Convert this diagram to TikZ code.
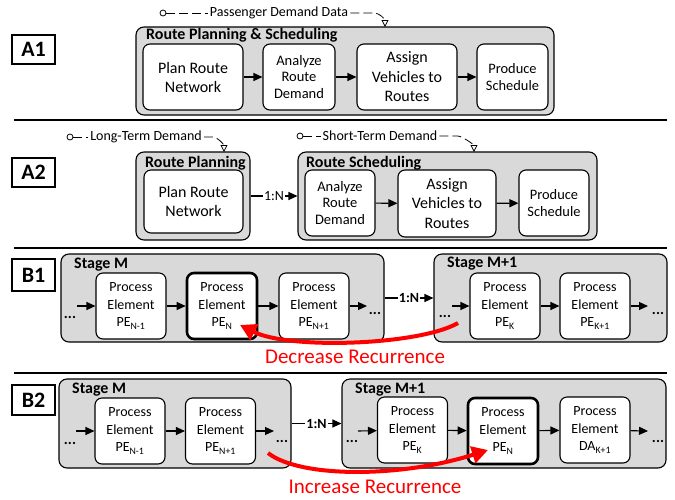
\documentclass[tikz,border=0pt]{standalone}
\usepackage{fontspec}
\setmainfont{Carlito}
\usetikzlibrary{arrows.meta}
\definecolor{panelgray}{RGB}{217,217,217}
\newcommand{\fsz}[2]{\fontsize{#1}{#2}\selectfont}
\newcommand{\procel}[2]{Process\\Element\\#1\textsubscript{#2}}
\begin{document}
\begin{tikzpicture}[x=1pt,y=-1pt,
  panel/.style={draw, line width=1.1pt, fill=panelgray, rounded corners=8pt, inner sep=0pt},
  inbox/.style={draw, line width=1.1pt, fill=white, rounded corners=7pt, align=center, inner sep=0pt},
  pebox/.style={inbox, minimum width=70pt, minimum height=66pt, font=\fsz{14}{17.5}},
  keybox/.style={pebox, line width=2.6pt},
  tag/.style={draw, line width=1.2pt, font=\fsz{22}{26}\bfseries, inner sep=0pt, minimum width=43pt},
  ttl/.style={anchor=west, inner sep=0pt, font=\fsz{16}{19}\bfseries},
  flow/.style={line width=1.1pt, -{Triangle[length=9pt,width=8pt]}},
  feed/.style={line width=0.8pt, dash pattern=on 9pt off 4pt},
  feedin/.style={feed, -{Triangle[open,length=7pt,width=7pt]}},
  src/.style={draw, circle, line width=0.8pt, minimum size=6pt, inner sep=0pt},
  srctxt/.style={inner sep=2pt, font=\fsz{14}{16}},
  ratio/.style={fill=white, inner sep=1pt, font=\fsz{14}{16}},
  rule/.style={line width=1.4pt},
  rec/.style={red, line width=4pt, -{Triangle[length=16pt,width=17pt]}},
  rectxt/.style={red, inner sep=0pt, font=\fsz{21}{24}},
  dots/.style={inner sep=0pt, font=\fsz{15}{16}\bfseries},
]
\useasboundingbox (0,0) rectangle (675,499);

% ---------------- A1 ----------------
\node[tag, minimum height=29pt] (tA1) at (33.5,49.5) {A1};
\node[panel, minimum width=418pt, minimum height=88pt] (pA1) at (345,71) {};
\node[ttl] (ttlA1) at (146,35) {Route Planning \& Scheduling};
\node[inbox, minimum width=100pt, minimum height=66pt, font=\fsz{16}{19}] (a1plan) at (193,77) {Plan Route\\Network};
\node[inbox, minimum width=72pt, minimum height=66pt, font=\fsz{14.5}{16.5}] (a1ana) at (299,77) {Analyze\\Route\\Demand};
\node[inbox, minimum width=100pt, minimum height=66pt, font=\fsz{16}{19.5}] (a1veh) at (407,77) {Assign\\Vehicles to\\Routes};
\node[inbox, minimum width=71pt, minimum height=66pt, font=\fsz{14.4}{17.5}] (a1sch) at (512.5,77) {Produce\\Schedule};
\draw[flow] (a1plan) -- (a1ana);
\draw[flow] (a1ana) -- (a1veh);
\draw[flow] (a1veh) -- (a1sch);

\node[src] (sA1) at (163,13) {};
\node[srctxt] (dA1) at (279,13) {Passenger Demand Data};
\coordinate (inA1) at (385,27);
\draw[feed] (sA1) -- (dA1);
\draw[feedin] (dA1.east) -- ++(24,0) .. controls +(5,0) and +(0,-8) .. (inA1);

\draw[rule] (14,120) -- (667,120);

% ---------------- A2 ----------------
\node[tag, minimum height=29pt] (tA2) at (33.5,172.5) {A2};
\node[panel, minimum width=114pt, minimum height=88pt] (pRP) at (193,196) {};
\node[ttl] (ttlRP) at (145,163) {Route Planning};
\node[inbox, minimum width=99pt, minimum height=63pt, font=\fsz{16}{19}] (a2plan) at (193.5,201.5) {Plan Route\\Network};

\node[panel, minimum width=299pt, minimum height=88pt] (pRS) at (447.5,196) {};
\node[ttl] (ttlRS) at (306,163) {Route Scheduling};
\node[inbox, minimum width=70pt, minimum height=66pt, font=\fsz{14.5}{16.5}] (a2ana) at (340,203) {Analyze\\Route\\Demand};
\node[inbox, minimum width=98pt, minimum height=67pt, font=\fsz{16}{19.5}] (a2veh) at (447,203.5) {Assign\\Vehicles to\\Routes};
\node[inbox, minimum width=70pt, minimum height=66pt, font=\fsz{14.4}{16.5}] (a2sch) at (554,203) {Produce\\Schedule};
\draw[flow] (a2ana) -- (a2veh);
\draw[flow] (a2veh) -- (a2sch);
\draw[flow] (pRP) -- node[ratio] (nA2) {1:N} (pRS);

\node[src] (sLT) at (70,137) {};
\node[srctxt] (dLT) at (146,137) {Long-Term Demand};
\coordinate (inLT) at (224,152);
\draw[feed] (sLT) -- (dLT);
\draw[feedin] (dLT.east) -- ++(9,0) .. controls +(5,0) and +(0,-7) .. (inLT);

\node[src] (sST) at (300,136) {};
\node[srctxt] (dST) at (380,136) {Short-Term Demand};
\coordinate (inST) at (474,152);
\draw[feed] (sST) -- (dST);
\draw[feedin] (dST.east) -- ++(18,0) .. controls +(5,0) and +(0,-7) .. (inST);

\draw[rule] (14,248) -- (667,248);

% ---------------- B1 ----------------
\node[tag, minimum height=32pt] (tB1) at (33.5,275) {B1};
\node[panel, minimum width=323pt, minimum height=88pt] (b1M) at (222.5,298) {};
\node[ttl] (ttlB1M) at (74,265) {Stage M};
\node[pebox] (b1p1) at (131,306) {\procel{PE}{N-1}};
\node[keybox] (b1pn) at (222,306) {\procel{PE}{N}};
\node[pebox] (b1p2) at (314,306) {\procel{PE}{N+1}};
\node[dots] (b1d1) at (70,317) {...};
\node[dots] (b1d2) at (375,313) {...};
\coordinate (b1a1) at (77,306);
\coordinate (b1a2) at (367,306);
\draw[flow] (b1a1) -- (b1p1);
\draw[flow] (b1p1) -- (b1pn);
\draw[flow] (b1pn) -- (b1p2);
\draw[flow] (b1p2) -- (b1a2);

\node[panel, minimum width=233pt, minimum height=88pt] (b1M1) at (550.5,298) {};
\node[ttl] (ttlB1M1) at (447,264) {Stage M+1};
\node[pebox] (b1pk) at (505,306) {\procel{PE}{K}};
\node[pebox] (b1pk1) at (595,306) {\procel{PE}{K+1}};
\node[dots] (b1d3) at (445,316) {...};
\node[dots] (b1d4) at (658,313) {...};
\coordinate (b1a3) at (452,306);
\coordinate (b1a4) at (648,306);
\draw[flow] (b1a3) -- (b1pk);
\draw[flow] (b1pk) -- (b1pk1);
\draw[flow] (b1pk1) -- (b1a4);
\draw[flow] (b1M) -- node[ratio, font=\fsz{14}{16}\bfseries] (nB1) {1:N} (b1M1);

\coordinate (r1s) at (458,323);
\coordinate (r1e) at (240,325);
\draw[rec] (r1s) .. controls (420,345) and (290,350) .. (r1e);
\node[rectxt] (dec) at (355,357) {Decrease Recurrence};

\draw[rule] (14,373) -- (667,373);

% ---------------- B2 ----------------
\node[tag, minimum height=30pt] (tB2) at (33.5,400) {B2};
\node[panel, minimum width=232pt, minimum height=89pt] (b2M) at (175,423.5) {};
\node[ttl] (ttlB2M) at (72,390) {Stage M};
\node[pebox] (b2p1) at (130,431) {\procel{PE}{N-1}};
\node[pebox] (b2p2) at (220.5,431) {\procel{PE}{N+1}};
\node[dots] (b2d1) at (70,443) {...};
\node[dots] (b2d2) at (282,441) {...};
\coordinate (b2a1) at (76,431);
\coordinate (b2a2) at (274,431);
\draw[flow] (b2a1) -- (b2p1);
\draw[flow] (b2p1) -- (b2p2);
\draw[flow] (b2p2) -- (b2a2);

\node[panel, minimum width=324pt, minimum height=89pt] (b2M1) at (504,423.5) {};
\node[ttl] (ttlB2M1) at (355,390) {Stage M+1};
\node[pebox] (b2pk) at (412.5,430) {\procel{PE}{K}};
\node[keybox] (b2pn) at (503,431) {\procel{PE}{N}};
\node[pebox] (b2dk) at (595,430) {\procel{DA}{K+1}};
\node[dots] (b2d3) at (352,441) {...};
\node[dots] (b2d4) at (658,441) {...};
\coordinate (b2a3) at (358,431);
\coordinate (b2a4) at (648,431);
\draw[flow] (b2a3) -- (b2pk);
\draw[flow] (b2pk) -- (b2pn);
\draw[flow] (b2pn) -- (b2dk);
\draw[flow] (b2dk) -- (b2a4);
\draw[flow] (b2M) -- node[ratio, font=\fsz{14}{16}\bfseries] (nB2) {1:N} (b2M1);

\coordinate (r2s) at (268,453);
\coordinate (r2e) at (488,450);
\draw[rec] (r2s) .. controls (300,478) and (400,478) .. (r2e);
\node[rectxt] (inc) at (375,487) {Increase Recurrence};
\end{tikzpicture}
\end{document}
